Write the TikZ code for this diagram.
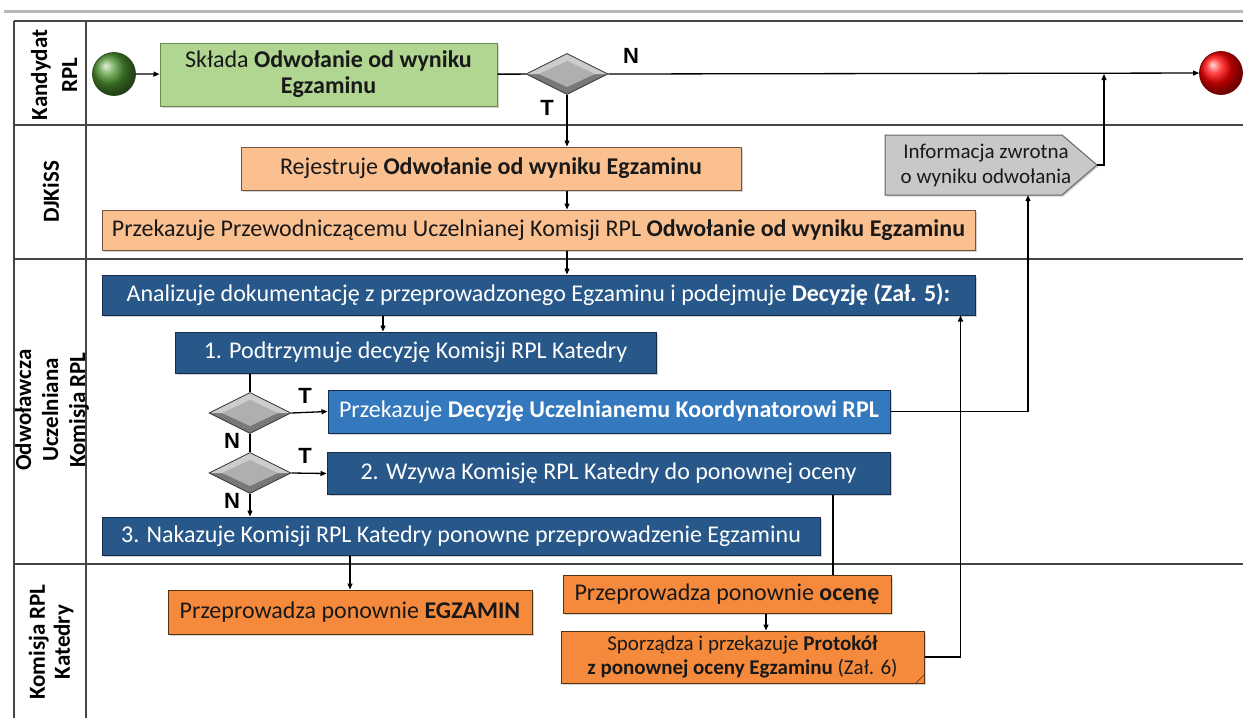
\documentclass[tikz,border=0pt]{standalone}
\usepackage{fontspec}
\setmainfont{Carlito}
\newfontfamily\arialf{Liberation Sans}
\usetikzlibrary{shapes.geometric,arrows.meta,shadows,calc}
\definecolor{grnfill}{RGB}{176,214,146}
\definecolor{grnline}{RGB}{105,140,75}
\definecolor{peach}{RGB}{250,192,144}
\definecolor{peachline}{RGB}{115,85,60}
\definecolor{dblue}{RGB}{40,88,138}
\definecolor{dblueline}{RGB}{22,45,75}
\definecolor{lblue}{RGB}{52,120,190}
\definecolor{orng}{RGB}{246,138,60}
\definecolor{orngline}{RGB}{85,50,20}
\definecolor{framec}{RGB}{70,70,70}
\definecolor{infogray}{RGB}{200,200,200}
\definecolor{infoline}{RGB}{100,100,100}
\definecolor{startg}{RGB}{80,150,50}
\definecolor{txtdark}{RGB}{25,25,25}
\definecolor{dmtop}{RGB}{205,205,205}
\definecolor{dmbot}{RGB}{120,120,120}
\definecolor{dmmid}{RGB}{175,175,175}
\tikzset{
  box/.style={draw, line width=1pt, inner sep=0pt, align=center,
    font=\fontsize{24}{26}\selectfont,
    drop shadow={shadow xshift=1.5pt, shadow yshift=-1.5pt, opacity=0.35}},
  greenbox/.style={box, fill=grnfill, draw=grnline, text=txtdark},
  peachbox/.style={box, fill=peach, draw=peachline, text=txtdark},
  bluebox/.style={box, fill=dblue, draw=dblueline, text=white},
  lbluebox/.style={box, fill=lblue, draw=dblueline, text=white},
  orangebox/.style={box, fill=orng, draw=orngline, text=txtdark},
  decis/.style={diamond, minimum width=82pt, minimum height=41pt, inner sep=0pt,
    fill=dmbot, draw=gray!40!black, line width=0.8pt,
    path picture={
      \fill[dmtop] ($(path picture bounding box.west)$) -- ($(path picture bounding box.north)$)
        -- ($(path picture bounding box.east)$) -- cycle;
      \fill[dmmid] ($(path picture bounding box.center)+(-28,0)$) -- ($(path picture bounding box.center)+(0,-13)$)
        -- ($(path picture bounding box.center)+(28,0)$) -- ($(path picture bounding box.center)+(0,13)$) -- cycle;
    }},
  evt/.style={circle, minimum size=43pt, inner sep=0pt, line width=0.8pt},
  flow/.style={line width=1.3pt, -{Triangle[length=6pt,width=5pt]}},
  plainline/.style={line width=1.3pt},
  yn/.style={font=\arialf\bfseries\fontsize{22}{22}\selectfont, inner sep=0pt},
  lanelbl/.style={rotate=90, align=center, font=\bfseries\fontsize{23}{27}\selectfont, inner sep=0pt},
  lanerule/.style={draw=framec, line width=1.1pt}
}
\begin{document}
\begin{tikzpicture}[x=1pt,y=-1pt]
\useasboundingbox (0,0) rectangle (1243,718);
% header bar and swimlane frame
\draw[line width=3pt, gray!55] (4,11.5) -- (1243,11.5);
\draw[lanerule] (14,21) -- (1243,21);
\draw[lanerule] (14,125) -- (1243,125);
\draw[lanerule] (14,259) -- (1243,259);
\draw[lanerule] (14,564) -- (1243,564);
\draw[lanerule] (14,21) -- (14,718);
\draw[lanerule] (86,21) -- (86,718);
% lane labels
\node[lanelbl, font=\bfseries\fontsize{23}{30}\selectfont] (l1) at (54,75) {Kandydat\\RPL};
\node[lanelbl] (l2) at (51,192) {DJKiSS};
\node[lanelbl] (l3) at (52,410) {Odwoławcza\\Uczelniana\\Komisja RPL};
\node[lanelbl, font=\bfseries\fontsize{23}{25}\selectfont] (l4) at (51,642) {Komisja RPL\\Katedry};
% lane 1
\node[evt, ball color=startg, draw=startg!50!black] (start) at (114,74) {};
\node[greenbox, minimum width=337pt, minimum height=63pt] (skl) at (328.5,74.5)
  {Składa \textbf{Odwołanie od wyniku}\\\textbf{Egzaminu}};
\node[decis] (d1) at (567,74) {};
\node[evt, ball color=red, draw=red!45!black] (end) at (1221,73) {};
\coordinate (j) at (1104,74);
% lane 2
\fill[infogray, draw=infoline, line width=1pt,
  drop shadow={shadow xshift=1.5pt, shadow yshift=-1.5pt, opacity=0.35}]
  (885,135) -- (1062,135) -- (1097,165) -- (1062,195) -- (885,195) -- cycle;
\node[inner sep=0pt, minimum width=212pt, minimum height=60pt, align=center,
  text=txtdark, font=\fontsize{21}{25}\selectfont] (info) at (986,165)
  {Informacja zwrotna\\o wyniku odwołania};
\coordinate (infotip) at (1097,165);
\node[peachbox, minimum width=500pt, minimum height=43pt] (rej) at (491,168.5)
  {Rejestruje \textbf{Odwołanie od wyniku Egzaminu}};
\node[peachbox, minimum width=873pt, minimum height=40pt] (prz) at (538.5,230)
  {Przekazuje Przewodniczącemu Uczelnianej Komisji RPL \textbf{Odwołanie od wyniku Egzaminu}};
% lane 3
\node[bluebox, minimum width=873pt, minimum height=40pt] (ana) at (538.5,295)
  {Analizuje dokumentację z przeprowadzonego Egzaminu i podejmuje \textbf{Decyzję (Zał. 5):}};
\node[bluebox, minimum width=481pt, minimum height=41pt] (pod) at (415.5,352.5)
  {1. Podtrzymuje decyzję Komisji RPL Katedry};
\node[decis] (d2) at (250,413) {};
\node[lbluebox, minimum width=562pt, minimum height=43pt] (dec) at (609,411.5)
  {Przekazuje \textbf{Decyzję Uczelnianemu Koordynatorowi RPL}};
\node[decis] (d3) at (250,473) {};
\node[bluebox, minimum width=563pt, minimum height=42pt] (wzy) at (608.5,473.5)
  {2. Wzywa Komisję RPL Katedry do ponownej oceny};
\node[bluebox, minimum width=718pt, minimum height=38pt] (nak) at (461,536)
  {3. Nakazuje Komisji RPL Katedry ponowne przeprowadzenie Egzaminu};
% lane 4
\node[orangebox, minimum width=364pt, minimum height=44pt] (egz) at (350,612)
  {Przeprowadza ponownie \textbf{EGZAMIN}};
\node[orangebox, minimum width=328pt, minimum height=38pt] (oce) at (727,594)
  {Przeprowadza ponownie \textbf{ocenę}};
\node[orangebox, minimum width=363pt, minimum height=52pt, font=\fontsize{21}{24}\selectfont] (prot) at (742.5,657)
  {Sporządza i przekazuje \textbf{Protokół}\\\textbf{z ponownej oceny Egzaminu} (Zał. 6)};
\fill[orng!75!black, draw=orngline, line width=0.6pt]
  ($(prot.south east)+(-9,0)$) -- ($(prot.south east)+(0,-9)$) -- ($(prot.south east)+(-7,-2)$) -- cycle;
% connectors
\draw[flow] (start) -- (skl);
\draw[plainline] (skl) -- (d1);
\draw[flow] (d1.east) -- (end);
\draw[flow] (d1.south) -- (rej.north -| d1.south);
\draw[flow] (rej.south -| d1.south) -- (prz.north -| d1.south);
\draw[flow] (prz.south -| d1.south) -- (ana.north -| d1.south);
\draw[flow] (infotip) -| (j);
\draw[flow] (ana.south -| 383,0) -- (pod.north -| 383,0);
\draw[plainline] (pod.south -| d2.north) -- (d2.north);
\draw[flow] (d2.east) -- (dec.west);
\draw[plainline] (d2.south) -- (d3.north);
\draw[flow] (d3.east) -- (wzy.west);
\draw[flow] (d3.south) -- (nak.north -| d3.south);
\draw[flow] (dec.east) -| ($(info.south)+(42,0)$);
\draw[flow] (nak.south -| egz.north) -- (egz.north);
\draw[plainline] (wzy.south -| 833,0) -- (oce.north -| 833,0);
\draw[flow] (oce.south -| 766,0) -- (prot.north -| 766,0);
\draw[flow] (prot.east) -| ($(ana.south east)+(-15,0)$);
% branch labels
\node[yn] (n1) at (631,56) {N};
\node[yn] (t1) at (547,108) {T};
\node[yn] (t2) at (305,396) {T};
\node[yn] (n2) at (232,441) {N};
\node[yn] (t3) at (305,456) {T};
\node[yn] (n3) at (232,501) {N};
\end{tikzpicture}
\end{document}
